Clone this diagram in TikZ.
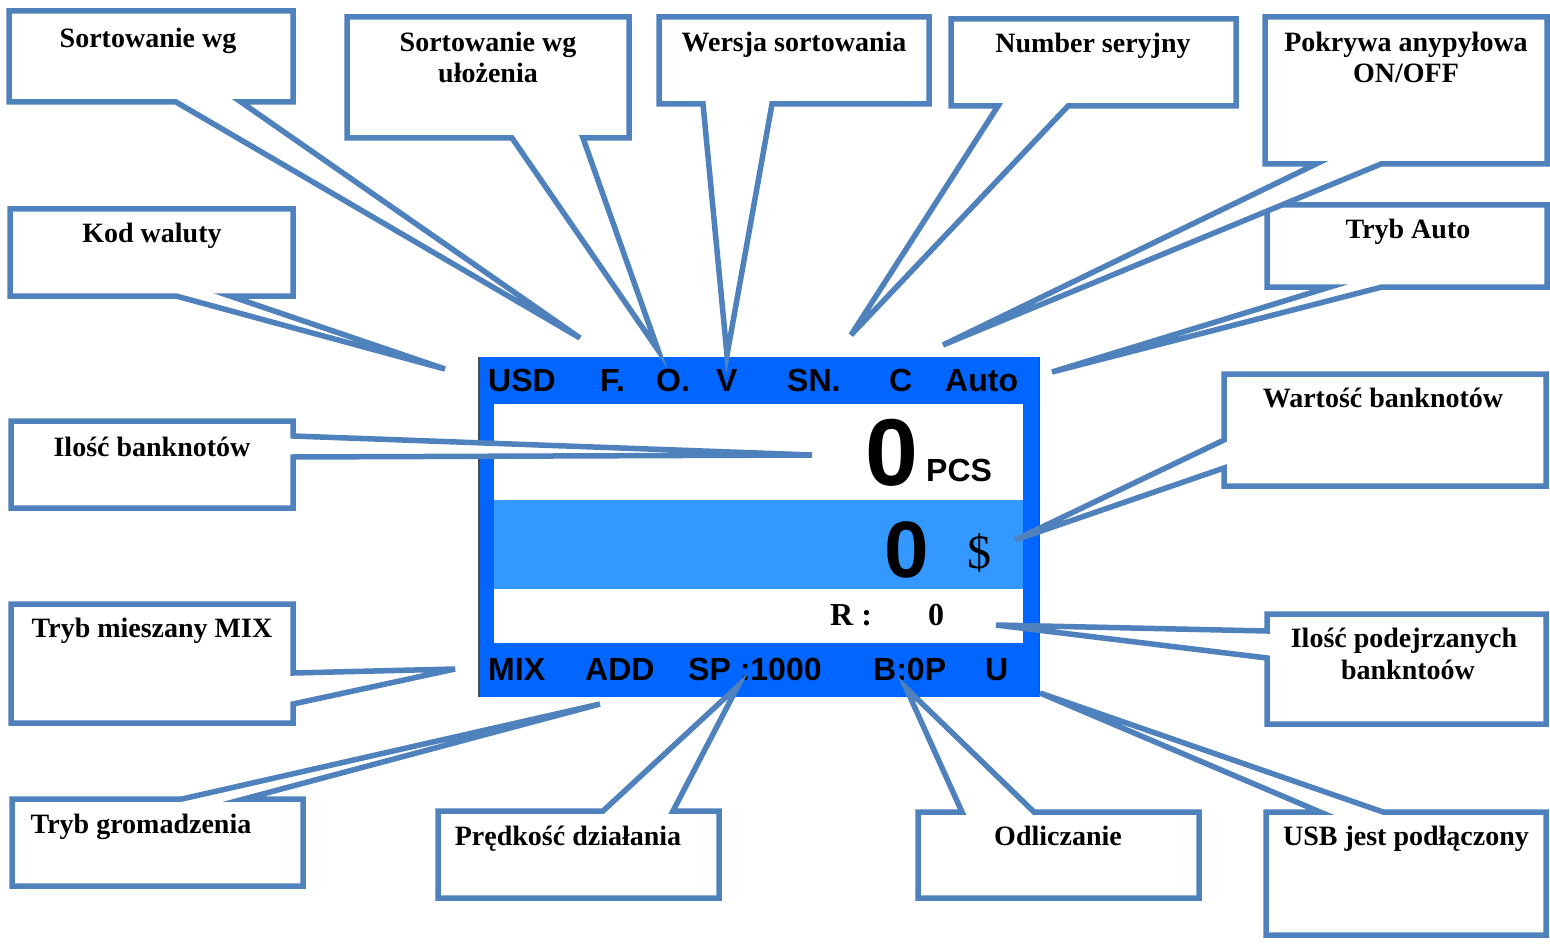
\documentclass[tikz,border=0pt]{standalone}
\usepackage{fontspec}
\setmainfont{Liberation Serif}
\newfontfamily\dispfont{Liberation Sans}
\definecolor{cline}{RGB}{79,129,189}
\definecolor{dblue}{RGB}{0,102,255}
\definecolor{lblue}{RGB}{51,153,255}
\begin{document}
\begin{tikzpicture}[x=1pt,y=-1pt,
  callout/.style={draw=cline, line width=5.5pt, fill=white, line join=miter},
  lbl/.style={font=\fontsize{28}{32}\selectfont\bfseries, inner sep=0pt, anchor=base},
  disp/.style={font=\dispfont\fontsize{32}{36}\selectfont\bfseries, inner sep=0pt, anchor=base west},
  big/.style={font=\dispfont\fontsize{#1}{#1}\selectfont\bfseries, inner sep=0pt, anchor=base west},
  serifd/.style={inner sep=0pt, anchor=base west},
]
\useasboundingbox (0,0) rectangle (1550,944);
\fill[white] (0,0) rectangle (1550,944);

% display
\fill[dblue] (478,357) rectangle (1040,697);
\draw[black!70, line width=1.5pt] (478.75,357) -- (478.75,697);
\draw[black!70, line width=1.5pt] (1039.25,357) -- (1039.25,697);
\fill[white] (494,404) rectangle (1023,643);
\fill[lblue] (494,500) rectangle (1023,589);

\node[disp] (usd) at (488,391) {USD};
\node[disp] (fd) at (600,391) {F.};
\node[disp] (od) at (656,391) {O.};
\node[disp] (vv) at (716,391) {V};
\node[disp] (sn) at (787,391) {SN.};
\node[disp] (cc) at (889,391) {C};
\node[disp] (auto) at (945,391) {Auto};

\node[big=95] (cnt) at (865,485) {0};
\node[disp] (pcs) at (926,481) {PCS};
\node[big=80] (val) at (884,577) {0};
\node[serifd, font=\fontsize{48}{50}\selectfont] (cur) at (967,568) {\$};
\node[serifd, font=\fontsize{32}{36}\selectfont\bfseries] (rr) at (830,625) {R :};
\node[serifd, font=\fontsize{32}{36}\selectfont\bfseries] (rz) at (928,625) {0};

\node[disp] (mix) at (488,680) {MIX};
\node[disp] (add) at (585,680) {ADD};
\node[disp] (sp) at (688,680) {SP :1000};
\node[disp] (bp) at (873,680) {B:0P};
\node[disp] (uu) at (985,680) {U};

% callouts
\draw[callout] (9,11) -- (293,11) -- (293,102) -- (241,102) -- (580,338) -- (176,102) -- (9,102) -- cycle;
\node[lbl] (t1) at (148,48) {Sortowanie wg};

\draw[callout] (347,17) -- (629,17) -- (629,138) -- (583,138) -- (658,350) -- (512,138) -- (347,138) -- cycle;
\node[lbl] (t2a) at (488,52) {Sortowanie wg};
\node[lbl] (t2b) at (488,83) {ułożenia};

\draw[callout] (659,17) -- (929,17) -- (929,104) -- (772,104) -- (727,355) -- (703,104) -- (659,104) -- cycle;
\node[lbl] (t3) at (794,52) {Wersja sortowania};

\draw[callout] (951,19) -- (1236,19) -- (1236,106) -- (1068,106) -- (851,335) -- (998,106) -- (951,106) -- cycle;
\node[lbl] (t4) at (1093,53) {Number seryjny};

\draw[callout] (1267,205) -- (1547,205) -- (1547,287) -- (1382,287) -- (1052,372) -- (1330,287) -- (1267,287) -- cycle;
\node[lbl] (t7) at (1408,239) {Tryb Auto};

\draw[callout] (1265,17) -- (1547,17) -- (1547,164) -- (1381,164) -- (943,345) -- (1316,164) -- (1265,164) -- cycle;
\node[lbl] (t5a) at (1406,52) {Pokrywa anypyłowa};
\node[lbl] (t5b) at (1406,83) {ON/OFF};

\draw[callout] (10,209) -- (293,209) -- (293,296) -- (230,296) -- (445,369) -- (176,296) -- (10,296) -- cycle;
\node[lbl] (t6) at (152,243) {Kod waluty};

\draw[callout] (11,421) -- (293,421) -- (293,436) -- (812,455) -- (293,457) -- (293,508) -- (11,508) -- cycle;
\node[lbl] (t8) at (152,456) {Ilość banknotów};

\draw[callout] (1224,374) -- (1546,374) -- (1546,486) -- (1224,486) -- (1224,468) -- (1015,540) -- (1224,440) -- cycle;
\node[lbl] (t9) at (1383,407) {Wartość banknotów};

\draw[callout] (11,604) -- (293,604) -- (293,673) -- (455,669) -- (293,704) -- (293,723) -- (11,723) -- cycle;
\node[lbl] (t10) at (152,637) {Tryb mieszany MIX};

\draw[callout] (1267,614) -- (1546,614) -- (1546,724) -- (1267,724) -- (1267,658) -- (996,625) -- (1267,631) -- cycle;
\node[lbl] (t11a) at (1404,647) {Ilość podejrzanych};
\node[lbl] (t11b) at (1408,679) {bankntoów};

\draw[callout] (12,799) -- (182,799) -- (600,704) -- (244,799) -- (303,799) -- (303,886) -- (12,886) -- cycle;
\node[lbl] (t12) at (141,833) {Tryb gromadzenia};

\draw[callout] (438,811) -- (603,811) -- (738,686) -- (673,811) -- (719,811) -- (719,898) -- (438,898) -- cycle;
\node[lbl] (t13) at (568,845) {Prędkość działania};

\draw[callout] (918,812) -- (962,812) -- (906,688) -- (1034,812) -- (1199,812) -- (1199,898) -- (918,898) -- cycle;
\node[lbl] (t14) at (1058,845) {Odliczanie};

\draw[callout] (1266,812) -- (1320,812) -- (1040,693) -- (1383,812) -- (1546,812) -- (1546,935) -- (1266,935) -- cycle;
\node[lbl] (t15) at (1406,845) {USB jest podłączony};
\end{tikzpicture}
\end{document}
